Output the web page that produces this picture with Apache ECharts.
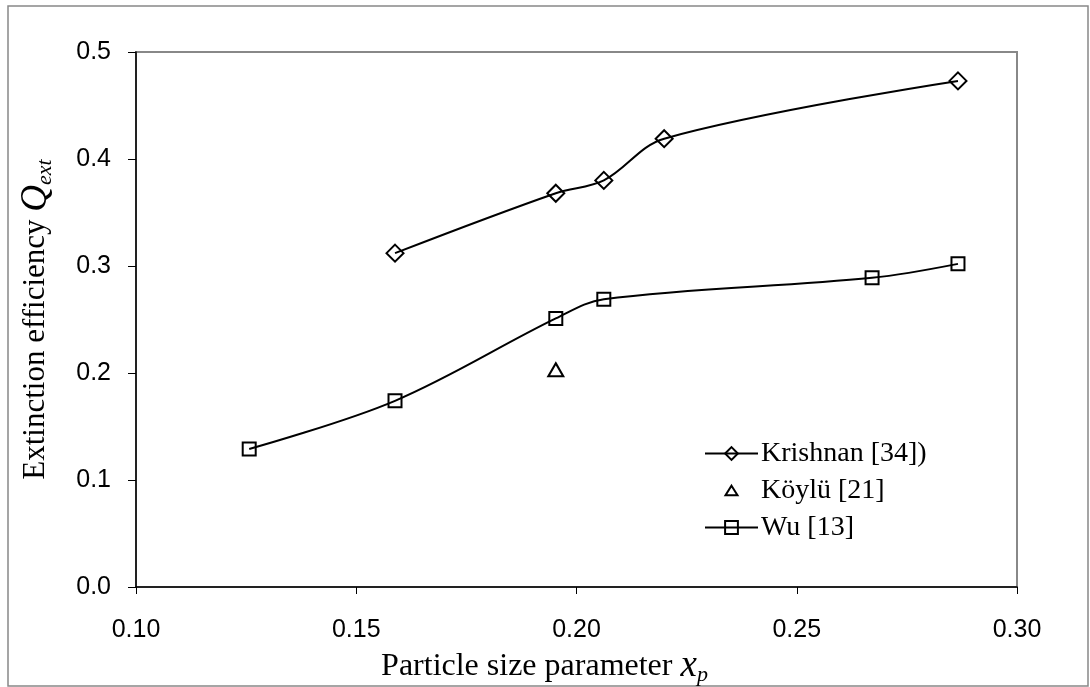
<!DOCTYPE html>
<html>
<head>
<meta charset="utf-8">
<script src="https://cdn.jsdelivr.net/npm/echarts@6/dist/echarts.min.js"></script>
<style>
  html, body { margin: 0; padding: 0; background: #fff; }
  #chart { width: 1090px; height: 687px; }
</style>
</head>
<body>
<div id="chart"></div>
<script>
// Particle size parameter x_p for each source
const krishnanX = [0.1588, 0.1953, 0.2062, 0.2199, 0.2866];
const krishnanQ = [0.312, 0.368, 0.380, 0.419, 0.473];

const koyluX = [0.1953];
const koyluQ = [0.203];

const wuX = [0.1257, 0.1588, 0.1953, 0.2062, 0.2671, 0.2866];
const wuQ = [0.129, 0.174, 0.251, 0.269, 0.289, 0.302];

const xTicks = { min: 0.10, max: 0.30, step: 0.05 };
const yTicks = { min: 0.0, max: 0.5, step: 0.1 };

const seriesNames = ['Krishnan [34])', 'Köylü [21]', 'Wu [13]'];

const pairs = (xs, ys) => xs.map((x, i) => [x, ys[i]]);

const serif = '"Liberation Serif", "Times New Roman", serif';
const sans = '"Liberation Sans", Arial, sans-serif';

const hollow = { color: 'rgba(255,255,255,0)', borderColor: '#000', borderWidth: 2, opacity: 1 };
// legend triangle: the two leading moveTo points pad the icon's bounding box so it draws small
const legendTriangle = 'path://M-10,-10M10,10M0,-6L7.5,6L-7.5,6Z';

const chart = echarts.init(document.getElementById('chart'));
chart.setOption({
  animation: false,
  backgroundColor: '#fff',
  graphic: [{
    type: 'rect',
    shape: { x: 8, y: 6, width: 1080, height: 680 },
    style: { fill: 'none', stroke: '#888', lineWidth: 1.5 },
    silent: true
  }],
  grid: {
    left: 136, top: 52, right: 73, bottom: 100,
    outerBoundsMode: 'none',
    containLabel: false,
    show: true, borderColor: '#888', borderWidth: 2, backgroundColor: 'transparent'
  },
  legend: {
    orient: 'vertical',
    left: 699, top: 434,
    itemWidth: 53, itemHeight: 16, itemGap: 8,
    itemStyle: { borderWidth: 2, opacity: 1 },
    lineStyle: { width: 2 },
    textStyle: { fontFamily: serif, fontSize: 28, color: '#000', lineHeight: 29, padding: [0, 0, 0, -2] },
    data: [
      { name: seriesNames[0] },
      { name: seriesNames[1], icon: legendTriangle },
      { name: seriesNames[2] }
    ]
  },
  xAxis: {
    type: 'value',
    min: xTicks.min, max: xTicks.max, interval: xTicks.step,
    axisLine: { lineStyle: { color: '#000', width: 1.5 } },
    axisTick: { lineStyle: { color: '#000' }, length: 7 },
    splitLine: { show: false },
    axisLabel: { fontFamily: sans, fontSize: 25, color: '#000', margin: 31,
                 formatter: v => v.toFixed(2) },
    name: '{t|Particle size parameter }{x|x}{s|p}',
    nameLocation: 'middle', nameGap: 58,
    nameTextStyle: {
      padding: [0, 64, 0, 0],
      rich: {
        t: { fontFamily: serif, fontSize: 32, color: '#000' },
        x: { fontFamily: serif, fontSize: 37, fontStyle: 'italic', color: '#000' },
        s: { fontFamily: serif, fontSize: 22, fontStyle: 'italic', color: '#000', padding: [18, 0, 0, 0] }
      }
    }
  },
  yAxis: {
    type: 'value',
    min: yTicks.min, max: yTicks.max, interval: yTicks.step,
    axisLine: { show: true, lineStyle: { color: '#000', width: 1.5 } },
    axisTick: { show: true, lineStyle: { color: '#000' }, length: 8 },
    splitLine: { show: false },
    axisLabel: { fontFamily: sans, fontSize: 25, color: '#000', margin: 25,
                 formatter: v => v.toFixed(1) },
    name: '{t|Extinction efficiency }{q|Q}{s|ext}',
    nameLocation: 'middle', nameGap: 80, nameRotate: 90,
    nameTextStyle: {
      rich: {
        t: { fontFamily: serif, fontSize: 31, color: '#000' },
        q: { fontFamily: serif, fontSize: 37, fontStyle: 'italic', color: '#000' },
        s: { fontFamily: serif, fontSize: 22, fontStyle: 'italic', color: '#000', padding: [18, 0, 0, 0] }
      }
    }
  },
  series: [
    {
      name: seriesNames[0],
      type: 'line',
      data: pairs(krishnanX, krishnanQ),
      smooth: 0.35,
      symbol: 'diamond', symbolSize: [17, 17],
      lineStyle: { color: '#000', width: 2 },
      itemStyle: hollow,
      z: 3
    },
    {
      name: seriesNames[1],
      type: 'scatter',
      data: pairs(koyluX, koyluQ),
      symbol: 'triangle', symbolSize: [15, 13],
      itemStyle: hollow,
      z: 3
    },
    {
      name: seriesNames[2],
      type: 'line',
      data: pairs(wuX, wuQ),
      smooth: 0.35,
      symbol: 'rect', symbolSize: [13, 13],
      lineStyle: { color: '#000', width: 2 },
      itemStyle: hollow,
      z: 3
    }
  ]
});
</script>
</body>
</html>
